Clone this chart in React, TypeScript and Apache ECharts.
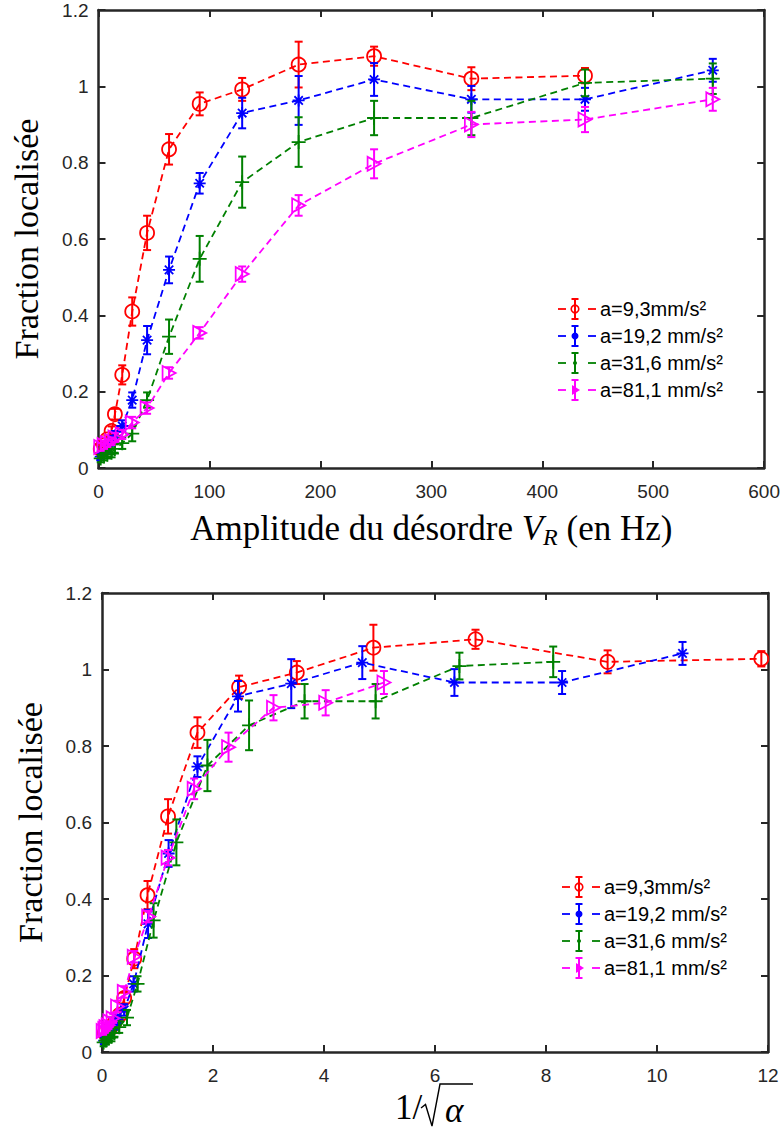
import React, { useEffect, useRef } from 'react';
import * as echarts from 'echarts';

// ---------- data ----------
const SERIES_NAMES = ['a=9,3mm/s²', 'a=19,2 mm/s²', 'a=31,6 mm/s²', 'a=81,1 mm/s²'];
const COLORS = ['#ff0000', '#0000ff', '#008000', '#ff00ff'];

// Disorder amplitude V_R (Hz), common x values of the upper panel
const VR = [2, 5, 8, 11.8, 14.8, 21.4, 30.4, 43.8, 63.6, 91.2, 129.5, 180.4, 248.4, 336.1, 438.5, 553.7];
const VR_RED = [2, 5, 8, 11.8, 14.8, 21.4, 30.4, 43.8, 63.6, 91.2, 129.5, 180.4, 248.4, 336.1, 438.5];

// Localised fraction
const RED_Y = [0.05, 0.06, 0.075, 0.097, 0.141, 0.244, 0.41, 0.616, 0.835, 0.954, 0.992, 1.057, 1.079, 1.02, 1.028];
const BLUE_Y = [0.03, 0.04, 0.05, 0.07, 0.085, 0.11, 0.178, 0.335, 0.519, 0.746, 0.93, 0.963, 1.018, 0.966, 0.966, 1.042];
const GREEN_Y = [0.025, 0.03, 0.035, 0.04, 0.05, 0.065, 0.09, 0.178, 0.344, 0.548, 0.749, 0.854, 0.917, 0.917, 1.009, 1.02];
const MAGENTA_Y = [0.055, 0.06, 0.065, 0.07, 0.08, 0.088, 0.119, 0.157, 0.249, 0.354, 0.508, 0.688, 0.797, 0.9, 0.913, 0.966];

// Error bars (half widths)
const RED_E = [0.01, 0.01, 0.01, 0.012, 0.014, 0.025, 0.037, 0.045, 0.04, 0.03, 0.03, 0.06, 0.025, 0.03, 0.02];
const BLUE_E = [0.01, 0.01, 0.01, 0.012, 0.012, 0.015, 0.02, 0.037, 0.035, 0.027, 0.04, 0.064, 0.043, 0.035, 0.03, 0.03];
const GREEN_E = [0.01, 0.01, 0.01, 0.012, 0.012, 0.015, 0.02, 0.02, 0.045, 0.06, 0.067, 0.065, 0.045, 0.045, 0.035, 0.04];
const MAGENTA_E = [0.01, 0.01, 0.01, 0.01, 0.012, 0.012, 0.015, 0.015, 0.015, 0.015, 0.02, 0.027, 0.038, 0.033, 0.033, 0.03];

// 1/sqrt(alpha), x values of the lower panel
const RED_X2 = [0.05, 0.14, 0.22, 0.32, 0.4, 0.58, 0.82, 1.19, 1.72, 2.47, 3.51, 4.89, 6.73, 9.11, 11.88];
const BLUE_X2 = [0.04, 0.09, 0.15, 0.22, 0.28, 0.4, 0.57, 0.83, 1.2, 1.72, 2.45, 3.41, 4.69, 6.35, 8.29, 10.46];
const GREEN_X2 = [0.03, 0.07, 0.12, 0.17, 0.22, 0.31, 0.45, 0.64, 0.93, 1.34, 1.9, 2.65, 3.65, 4.93, 6.44, 8.13];
const MAGENTA_X2 = [0.02, 0.05, 0.07, 0.11, 0.14, 0.2, 0.28, 0.4, 0.58, 0.84, 1.19, 1.66, 2.28, 3.09, 4.03, 5.08];

const Y_TOP = [RED_Y, BLUE_Y, GREEN_Y, MAGENTA_Y];
const E_ALL = [RED_E, BLUE_E, GREEN_E, MAGENTA_E];
const X_TOP = [VR_RED, VR, VR, VR];
const X_BOT = [RED_X2, BLUE_X2, GREEN_X2, MAGENTA_X2];

const SYMBOLS = [
  'circle',
  'path://M0,-10L0,10M-10,0L10,0M-7,-7L7,7M-7,7L7,-7',
  'path://M0,-10L0,10M-10,0L10,0',
  'path://M-8,-10L10,0L-8,10Z',
];
const SYMBOL_SIZES: any[] = [14, 12, 14, [13, 14]];

const AXIS_COLOR = '#262626';
const SANS = 'Liberation Sans, Arial, Helvetica, sans-serif';
const SERIF = 'Liberation Serif, Times New Roman, serif';

export default function App() {
  const ref = useRef<HTMLDivElement>(null);
  useEffect(() => {
    document.body.style.margin = '0';
    const chart = echarts.init(ref.current!, null, { renderer: 'svg' });

    const grids = [
      { left: 98.5, top: 10, width: 668, height: 458 },
      { left: 102, top: 593, width: 666, height: 459 },
    ];

    const axisLine = { show: true, onZero: false, lineStyle: { color: AXIS_COLOR, width: 2.5 } };
    const axisTick = { show: true, inside: true, length: 7, lineStyle: { color: AXIS_COLOR, width: 2 } };
    const axisLabel = { color: AXIS_COLOR, fontFamily: SANS, fontSize: 19 };

    const mkX = (grid: number, max: number, interval: number, pos: 'bottom' | 'top', name?: any) => ({
      type: 'value', gridIndex: grid, position: pos, min: 0, max, interval,
      axisLine, axisTick, splitLine: { show: false },
      axisLabel: pos === 'bottom' ? { ...axisLabel, margin: 14 } : { show: false },
      ...(name || {}),
    });
    const mkY = (grid: number, pos: 'left' | 'right', name?: any) => ({
      type: 'value', gridIndex: grid, position: pos, min: 0, max: 1.2, interval: 0.2,
      axisLine, axisTick, splitLine: { show: false },
      axisLabel: pos === 'left' ? { ...axisLabel, margin: 10 } : { show: false },
      ...(name || {}),
    });

    const yName = {
      name: 'Fraction localisée', nameLocation: 'middle', nameGap: 55, nameRotate: 90,
      nameTextStyle: { fontFamily: SERIF, fontSize: 34, color: '#000' },
    };

    const xAxis = [
      mkX(0, 600, 100, 'bottom', {
        name: '{n|Amplitude du désordre }{i|V}{s|R}{n| (en Hz)}',
        nameLocation: 'middle', nameGap: 39,
        nameTextStyle: {
          rich: {
            n: { fontFamily: SERIF, fontSize: 35, color: '#000', lineHeight: 42 },
            i: { fontFamily: SERIF, fontSize: 35, fontStyle: 'italic', color: '#000', lineHeight: 42 },
            s: { fontFamily: SERIF, fontSize: 24, fontStyle: 'italic', color: '#000', lineHeight: 19, verticalAlign: 'bottom' },
          },
        },
      }),
      mkX(0, 600, 100, 'top'),
      mkX(1, 12, 2, 'bottom'),
      mkX(1, 12, 2, 'top'),
    ];
    const yAxis = [mkY(0, 'left', yName), mkY(0, 'right'), mkY(1, 'left', yName), mkY(1, 'right')];

    const series: any[] = [];
    for (let panel = 0; panel < 2; panel++) {
      const xs = panel === 0 ? X_TOP : X_BOT;
      const xi = panel === 0 ? 0 : 2;
      const yi = panel === 0 ? 0 : 2;
      for (let s = 0; s < 4; s++) {
        const color = COLORS[s];
        const data = xs[s].map((x, i) => [x, Y_TOP[s][i], E_ALL[s][i]]);
        series.push({
          type: 'line', name: SERIES_NAMES[s], xAxisIndex: xi, yAxisIndex: yi,
          data: data.map((d) => [d[0], d[1]]),
          symbol: SYMBOLS[s], symbolSize: SYMBOL_SIZES[s], showSymbol: true,
          lineStyle: { color, width: 1.8, type: [7, 4.5] },
          itemStyle: { color: 'rgba(0,0,0,0)', borderColor: color, borderWidth: 1.8 },
          z: 3 + s * 2, silent: true,
        });
        series.push({
          type: 'custom', xAxisIndex: xi, yAxisIndex: yi, data,
          encode: { x: 0, y: 1 }, z: 3 + s * 2, silent: true,
          renderItem: (params: any, api: any) => {
            const x = api.value(0), y = api.value(1), e = api.value(2);
            const p1 = api.coord([x, y + e]);
            const p2 = api.coord([x, y - e]);
            const w = 4;
            const style = { stroke: color, lineWidth: 2 };
            return {
              type: 'group', children: [
                { type: 'line', shape: { x1: p1[0], y1: p1[1], x2: p2[0], y2: p2[1] }, style },
                { type: 'line', shape: { x1: p1[0] - w, y1: p1[1], x2: p1[0] + w, y2: p1[1] }, style },
                { type: 'line', shape: { x1: p2[0] - w, y1: p2[1], x2: p2[0] + w, y2: p2[1] }, style },
              ],
            };
          },
        });
      }
    }

    // legends (drawn as graphics)
    const g: any[] = [];
    const legendBoxes = [
      { x: 558, rows: [309, 336, 363, 390] },
      { x: 562, rows: [887, 914, 941, 968] },
    ];
    legendBoxes.forEach((box) => {
      box.rows.forEach((cy, s) => {
        const color = COLORS[s];
        const cx = box.x + 17;
        const ls = { stroke: color, lineWidth: 1.8 };
        g.push({ type: 'line', shape: { x1: box.x, y1: cy, x2: box.x + 8, y2: cy }, style: ls, silent: true });
        g.push({ type: 'line', shape: { x1: box.x + 30, y1: cy, x2: box.x + 38, y2: cy }, style: ls, silent: true });
        const es = { stroke: color, lineWidth: 2 };
        g.push({ type: 'line', shape: { x1: cx, y1: cy - 10, x2: cx, y2: cy + 10 }, style: es, silent: true });
        g.push({ type: 'line', shape: { x1: cx - 3.5, y1: cy - 10, x2: cx + 3.5, y2: cy - 10 }, style: es, silent: true });
        g.push({ type: 'line', shape: { x1: cx - 3.5, y1: cy + 10, x2: cx + 3.5, y2: cy + 10 }, style: es, silent: true });
        if (s === 0) {
          g.push({ type: 'circle', shape: { cx, cy, r: 3.8 }, style: { fill: 'none', stroke: color, lineWidth: 1.6 }, silent: true });
        } else if (s === 1) {
          g.push({ type: 'circle', shape: { cx, cy, r: 3.5 }, style: { fill: color }, silent: true });
        } else if (s === 2) {
          g.push({ type: 'circle', shape: { cx, cy, r: 2 }, style: { fill: color }, silent: true });
        } else {
          g.push({ type: 'polygon', shape: { points: [[cx - 3, cy - 5], [cx + 5, cy], [cx - 3, cy + 5]] }, style: { fill: color }, silent: true });
        }
        g.push({
          type: 'text', x: box.x + 42, y: cy, silent: true,
          style: { text: SERIES_NAMES[s], fill: '#000', fontFamily: SANS, fontSize: 20, verticalAlign: 'middle', align: 'left' },
        });
      });
    });

    // lower x-axis title: 1/sqrt(alpha)
    g.push({ type: 'text', x: 395, y: 1107, silent: true,
      style: { text: '1/', fill: '#000', fontFamily: SERIF, fontSize: 35, verticalAlign: 'middle', align: 'left' } });
    g.push({ type: 'polyline', silent: true,
      shape: { points: [[421, 1108], [425.5, 1104.5], [432, 1126], [440, 1084], [473, 1084]] },
      style: { stroke: '#000', lineWidth: 1.4, fill: 'none' } });
    g.push({ type: 'text', x: 445, y: 1110, silent: true,
      style: { text: 'α', fill: '#000', fontFamily: SERIF, fontSize: 35, fontStyle: 'italic', verticalAlign: 'middle', align: 'left' } });

    chart.setOption({
      animation: false,
      backgroundColor: '#fff',
      grid: grids.map((gr) => ({ ...gr, containLabel: false })),
      xAxis, yAxis, series,
      graphic: g,
    });
    return () => chart.dispose();
  }, []);
  return <div ref={ref} style={{ width: 783, height: 1131 }} />;
}
